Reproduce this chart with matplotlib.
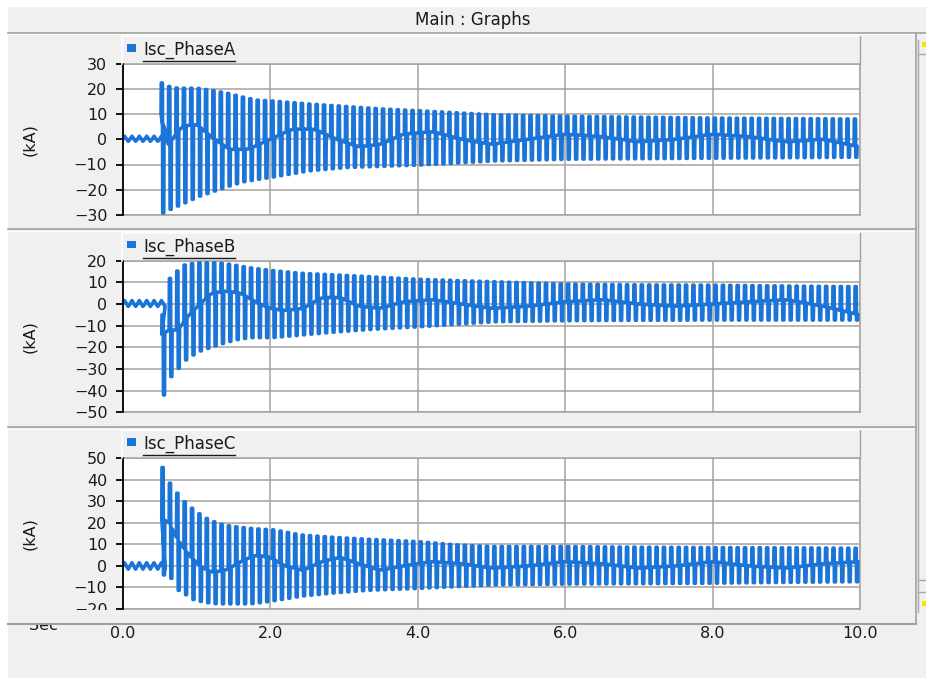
import numpy as np
import matplotlib
matplotlib.use("Agg")
import matplotlib.pyplot as plt
from matplotlib.lines import Line2D
from matplotlib.patches import Rectangle

# ---- data (kA vs sec) ----
period = 0.1  # visible cycle spacing of the plotted trace

# Phase A
fault_a = 0.52
env_t_a = [0.52, 0.6, 0.7, 0.8, 1.0, 1.2, 1.4, 1.6, 1.8, 2.0, 2.5, 3.0, 3.5, 4.0, 5.0, 6.0, 8.0, 10.0]
upper_a = [22.3, 21.0, 20.3, 20.2, 20.2, 19.3, 18.3, 16.8, 15.5, 15.2, 14.0, 13.0, 12.0, 11.3, 9.7, 9.1, 8.4, 8.0]
lower_a = [-29.2, -28.0, -26.7, -25.4, -22.7, -20.7, -18.7, -16.9, -15.9, -15.0, -12.5, -11.2, -10.7, -10.2, -8.6, -7.9, -7.5, -7.1]
mid_t_a = [0.52, 0.62, 0.8, 1.0, 1.2, 1.45, 1.7, 2.0, 2.3, 2.6, 2.9, 3.2, 3.5, 3.8, 4.2, 4.6,
           5.0, 5.5, 6.0, 6.5, 7.0, 7.5, 8.0, 8.5, 9.0, 9.5, 10.0]
mid_a = [10, -2, 5, 6, 1, -4, -4, 0, 4, 4, 0, -3, -2, 2, 3, 0, -2, 0, 2, 1, -1, 0, 2, 1, -1, 0, -3]
pre_a = (1.2, -0.8)

# Phase B
fault_b = 0.53
env_t_b = [0.53, 0.63, 0.73, 0.83, 0.93, 1.0, 1.3, 1.5, 1.7, 2.0, 2.4, 2.9, 3.4, 4.0, 5.0, 6.0, 7.0, 8.0, 9.0, 10.0]
upper_b = [-5.0, 11.8, 15.2, 18.0, 18.6, 19.0, 19.0, 18.0, 16.8, 15.5, 14.2, 13.4, 12.5, 11.4, 10.3, 9.2, 8.8, 8.7, 8.3, 8.0]
lower_b = [-42.0, -33.5, -29.7, -25.8, -23.5, -22.0, -18.5, -16.6, -15.5, -15.5, -14.3, -12.8, -11.6, -10.5, -8.2, -7.7, -7.5, -7.4, -7.4, -7.4]
mid_t_b = [0.53, 0.63, 0.75, 0.9, 1.05, 1.2, 1.4, 1.6, 1.8, 2.0, 2.2, 2.45, 2.7, 2.95, 3.2,
           3.5, 3.8, 4.2, 4.6, 5.0, 5.5, 6.0, 6.5, 7.0, 7.5, 8.0, 8.5, 9.0, 9.5, 10.0]
mid_b = [-14, -12, -12, -5, 0, 5, 6, 5, 1, -2, -3, -2, 3, 3, -1, -2, 1, 2, 0, -2, -1, 1, 2, 0, -1, 0, 1, 2, -1, -5]
pre_b = (1.6, -1.1)

# Phase C
fault_c = 0.53
env_t_c = [0.53, 0.63, 0.74, 0.84, 0.94, 1.05, 1.16, 1.26, 1.36, 1.5, 1.7, 1.9, 2.05, 2.4, 2.85, 3.3, 4.0, 4.5, 5.0, 6.0, 7.0, 8.0, 9.0, 10.0]
upper_c = [45.7, 38.4, 33.3, 29.4, 26.5, 23.7, 21.4, 20.1, 19.0, 18.3, 17.5, 17.0, 16.7, 14.4, 13.3, 12.4, 11.3, 9.8, 9.0, 9.0, 8.7, 8.5, 8.4, 8.2]
lower_c = [-4.2, -5.7, -11.9, -13.5, -15.8, -16.6, -17.3, -17.6, -17.6, -17.6, -17.6, -16.8, -16.0, -14.0, -12.5, -11.3, -10.4, -9.6, -8.8, -8.4, -8.2, -8.0, -7.6, -7.3]
mid_t_c = [0.53, 0.63, 0.75, 0.9, 1.05, 1.2, 1.4, 1.6, 1.8, 2.0, 2.2, 2.45, 2.7, 2.95, 3.2,
           3.5, 3.8, 4.2, 4.6, 5.0, 5.5, 6.0, 6.5, 7.0, 7.5, 8.0, 8.5, 9.0, 9.5, 10.0]
mid_c = [22, 20, 12, 5, 0, -3, -2, 2, 5, 4, 0, -2, 2, 4, 1, -2, 0, 2, 1, -1, 0, 2, 1, -1, 0, 2, 0, -1, 1, 2]
pre_c = (1.5, -1.5)

names = ["Isc_PhaseA", "Isc_PhaseB", "Isc_PhaseC"]
ylims = [(-30, 30), (-50, 20), (-20, 50)]
xtick_vals = [0.0, 2.0, 4.0, 6.0, 8.0, 10.0]
xtick_labels = ["0.0", "2.0", "4.0", "6.0", "8.0", "10.0"]

# ---- look ----
W, H = 926, 678
BG = "#f0f0f0"
BLUE = "#1b74d8"
GRID = "#a6a29e"
TXT = "#1a1a1a"
plt.rcParams["font.family"] = "DejaVu Sans"


def fx(px):
    return px / W


def fy(py):
    return 1 - py / H


def hline(fig, x0, x1, y, color, lw=1.0, z=5):
    fig.add_artist(Line2D([fx(x0), fx(x1)], [fy(y), fy(y)], transform=fig.transFigure,
                          color=color, lw=lw, zorder=z))


def vline(fig, x, y0, y1, color, lw=1.0, z=5):
    fig.add_artist(Line2D([fx(x), fx(x)], [fy(y0), fy(y1)], transform=fig.transFigure,
                          color=color, lw=lw, zorder=z))


def build_trace(fault, env_t, upper, lower, mid_t, mid, pre):
    # where the strokes sit inside one visible cycle (fractions of the period)
    shape = [0.0, 0.03, 0.19, 0.23, 0.37, 0.41]
    ts, vs = [], []
    t = 0.0
    while t < fault - 1e-9:
        ts += [t, t + 0.25 * period, t + 0.75 * period]
        vs += [0.0, pre[0], pre[1]]
        t += period
    k = 0
    while True:
        tk = fault + k * period
        if tk > 10.0:
            break
        u = np.interp(tk, env_t, upper)
        lo = np.interp(tk, env_t, lower)
        m = np.interp(tk, mid_t, mid)
        m2 = np.interp(tk + shape[-1] * period, mid_t, mid)
        ts += [tk + f * period for f in shape]
        vs += [m, u, u, lo, lo, m2]
        k += 1
    return np.array(ts), np.array(vs)


traces = [
    build_trace(fault_a, env_t_a, upper_a, lower_a, mid_t_a, mid_a, pre_a),
    build_trace(fault_b, env_t_b, upper_b, lower_b, mid_t_b, mid_b, pre_b),
    build_trace(fault_c, env_t_c, upper_c, lower_c, mid_t_c, mid_c, pre_c),
]

fig = plt.figure(figsize=(W / 100, H / 100), dpi=100, facecolor=BG)

# window chrome
fig.add_artist(Rectangle((0, fy(7)), 1, 1 - fy(7), transform=fig.transFigure,
                         facecolor="white", edgecolor="none", zorder=-10))
fig.add_artist(Rectangle((0, 0), fx(8), 1, transform=fig.transFigure,
                         facecolor="white", edgecolor="none", zorder=-10))
fig.text(fx(473), fy(20), "Main : Graphs", ha="center", va="center", fontsize=12, color=TXT)
hline(fig, 8, 926, 32.5, "#a0a0a0", lw=1.2)
hline(fig, 8, 916, 33.5, "white", lw=0.8)

# panel geometry in pixels: (header top, plot top, plot bottom)
panels = [(36, 63.5, 215), (233, 260.7, 412.3), (430, 458.3, 609)]
left_px, right_px = 122.7, 860

axes = []
for i, (htop, ptop, pbot) in enumerate(panels):
    ax = fig.add_axes([fx(left_px), fy(pbot), fx(right_px - left_px), (pbot - ptop) / H])
    ax.set_facecolor("white")
    ts, vs = traces[i]
    ax.plot(ts, vs, color=BLUE, lw=2.6, solid_joinstyle="round", solid_capstyle="round", zorder=3)
    ax.set_xlim(0, 10)
    ax.set_ylim(*ylims[i])
    ax.set_yticks(np.arange(ylims[i][0], ylims[i][1] + 1, 10))
    ax.set_xticks(xtick_vals)
    ax.grid(True, color=GRID, lw=1.1, zorder=1)
    ax.set_axisbelow(True)
    for s in ["top", "right", "bottom"]:
        ax.spines[s].set_color(GRID)
        ax.spines[s].set_linewidth(1.1)
    ax.spines["left"].set_color("black")
    ax.spines["left"].set_linewidth(1.3)
    ax.spines["left"].set_zorder(4)
    ax.tick_params(axis="y", direction="out", length=5, width=1.3, color="black",
                   labelsize=11.5, pad=6, labelcolor=TXT)
    if i < 2:
        ax.tick_params(axis="x", length=0, labelbottom=False)
    else:
        ax.set_xticklabels(xtick_labels)
        ax.tick_params(axis="x", length=0, labelsize=11.5, pad=12, labelcolor=TXT)
    fig.text(fx(30), fy((ptop + pbot) / 2), "(kA)", rotation=90, ha="center", va="center",
             fontsize=11.5, color=TXT)
    # legend header bar
    fig.add_artist(Rectangle((fx(120), fy(ptop)), fx(right_px - 120), (ptop - htop) / H,
                             transform=fig.transFigure, facecolor=BG, edgecolor="none", zorder=-1))
    vline(fig, 121.5, htop, ptop, "white", lw=1.2, z=1)
    hline(fig, 121.5, right_px, htop, "white", lw=1.2, z=1)
    vline(fig, right_px, htop, ptop, GRID, lw=1.0, z=1)
    fig.add_artist(Rectangle((fx(126.5), fy(51.5 + htop - 36)), fx(9.5), 7.5 / H,
                             transform=fig.transFigure, facecolor=BLUE, edgecolor="none", zorder=6))
    t = fig.text(fx(143), fy(50 + htop - 36), names[i], ha="left", va="center",
                 fontsize=12, color=TXT)
    axes.append((t, 60.5 + htop - 36))

# panel separators and frame
for y in [229, 427]:
    hline(fig, 8, 916, y, "#a0a0a0", lw=1.2)
    hline(fig, 8, 916, y + 1.5, "white", lw=0.8)
vline(fig, 915.5, 32.5, 624, "#a0a0a0", lw=1.2)

# "Sec" label partly hidden by the frame
fig.text(fx(43), fy(626), "Sec", ha="center", va="center", fontsize=11.5, color=TXT, zorder=1)
fig.add_artist(Rectangle((fx(8), fy(624)), fx(100), 14 / H, transform=fig.transFigure,
                         facecolor=BG, edgecolor="none", zorder=2))
hline(fig, 8, 916, 624, "#a0a0a0", lw=1.5, z=3)

# scrollbar stub
vline(fig, 918, 40, 612, "#a8a8a8", lw=1.0)
hline(fig, 918, 926, 54, "#a8a8a8", lw=1.0)
hline(fig, 918, 926, 580, "#a8a8a8", lw=1.0)
hline(fig, 918, 926, 592, "#a8a8a8", lw=1.0)
fig.add_artist(Rectangle((fx(922), fy(47)), fx(4), 5 / H, transform=fig.transFigure,
                         facecolor="#f5e600", edgecolor="none", zorder=6))
fig.add_artist(Rectangle((fx(922), fy(606)), fx(4), 5 / H, transform=fig.transFigure,
                         facecolor="#f5e600", edgecolor="none", zorder=6))

# underline the legend names
fig.canvas.draw()
r = fig.canvas.get_renderer()
for t, uy in axes:
    bb = t.get_window_extent(renderer=r)
    hline(fig, bb.x0, bb.x1, uy, TXT, lw=1.0, z=6)

fig.savefig("out.png", dpi=100, facecolor=BG)
